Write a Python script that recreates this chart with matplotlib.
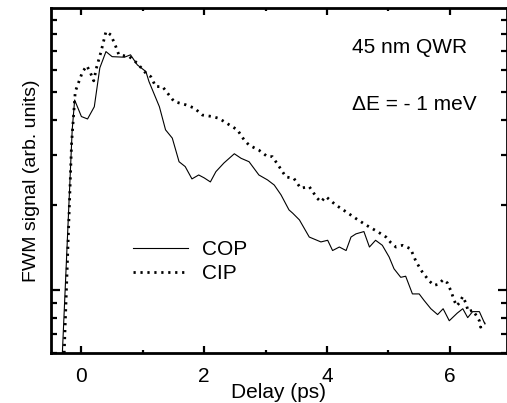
import matplotlib
matplotlib.use("Agg")
import matplotlib.pyplot as plt
from matplotlib.ticker import MultipleLocator, LogLocator, NullFormatter

plt.rcParams['font.family'] = ['Liberation Sans', 'DejaVu Sans']

# COP (solid)
cop_delay = [-0.31, -0.15, -0.11, 0.00, 0.10, 0.21, 0.30, 0.40, 0.50, 0.70, 0.80, 0.91,
             1.05, 1.10, 1.27, 1.37, 1.48, 1.59, 1.69, 1.80, 1.91, 2.00, 2.10, 2.19,
             2.32, 2.49, 2.60, 2.73, 2.89, 3.03, 3.14, 3.25, 3.38, 3.44, 3.55, 3.71,
             3.90, 4.01, 4.09, 4.20, 4.31, 4.39, 4.47, 4.60, 4.69, 4.79, 4.90, 5.01,
             5.09, 5.20, 5.28, 5.39, 5.50, 5.58, 5.69, 5.80, 5.89, 5.99, 6.12, 6.21,
             6.29, 6.37, 6.48, 6.57]
cop_signal = [0.60, 3.68, 4.69, 4.10, 4.02, 4.44, 6.09, 6.95, 6.67, 6.64, 6.77, 6.24,
              5.91, 5.45, 4.44, 3.68, 3.44, 2.84, 2.73, 2.47, 2.55, 2.49, 2.41, 2.62,
              2.81, 3.03, 2.92, 2.84, 2.55, 2.45, 2.35, 2.17, 1.92, 1.87, 1.77, 1.54,
              1.48, 1.50, 1.38, 1.42, 1.38, 1.54, 1.58, 1.61, 1.42, 1.50, 1.44, 1.31,
              1.19, 1.11, 1.12, 0.97, 0.97, 0.92, 0.86, 0.82, 0.86, 0.78, 0.83, 0.86,
              0.80, 0.84, 0.84, 0.76]

# CIP (dotted)
cip_delay = [-0.28, -0.16, -0.10, -0.04, 0.02, 0.09, 0.15, 0.20, 0.25, 0.32, 0.40, 0.48,
             0.56, 0.61, 0.78, 0.91, 1.05, 1.13, 1.21, 1.32, 1.51, 1.70, 1.84, 1.97,
             2.13, 2.24, 2.41, 2.54, 2.65, 2.73, 2.89, 3.03, 3.11, 3.22, 3.33, 3.46,
             3.57, 3.71, 3.84, 3.90, 3.98, 4.14, 4.31, 4.47, 4.63, 4.82, 4.96, 5.04,
             5.12, 5.23, 5.36, 5.45, 5.55, 5.66, 5.74, 5.82, 5.89, 5.96, 6.02, 6.07,
             6.11, 6.15, 6.21, 6.26, 6.30, 6.37, 6.42, 6.48, 6.50, 6.57]
cip_signal = [0.60, 3.30, 5.02, 5.45, 5.91, 6.19, 5.83, 5.48, 6.15, 6.95, 8.18, 7.96,
              7.24, 6.77, 6.67, 6.32, 5.83, 5.67, 5.23, 5.23, 4.63, 4.51, 4.39, 4.15,
              4.10, 4.04, 3.83, 3.68, 3.39, 3.25, 3.12, 2.96, 2.96, 2.73, 2.51, 2.48,
              2.29, 2.32, 2.11, 2.05, 2.14, 2.00, 1.89, 1.79, 1.70, 1.61, 1.54, 1.47,
              1.42, 1.44, 1.40, 1.26, 1.16, 1.08, 1.04, 1.05, 1.09, 1.06, 0.99, 0.92,
              0.88, 0.90, 0.95, 0.90, 0.84, 0.85, 0.82, 0.78, 0.74, 0.77]

xticks = [0, 2, 4, 6]

fig = plt.figure(figsize=(5.07, 4.03), dpi=100)
ax = fig.add_axes([0.100, 0.124, 0.900, 0.856])

ax.plot(cop_delay, cop_signal, color='black', lw=0.8, label='COP')
ax.plot(cip_delay, cip_signal, color='black', lw=2.0, linestyle=(0, (0.8, 1.7)),
        label='CIP')

ax.set_yscale('log')
ax.set_xlim(-0.5, 6.93)
ax.set_ylim(0.6, 9.9)

ax.set_xticks(xticks)
ax.set_xticklabels([str(t) for t in xticks])
ax.xaxis.set_minor_locator(MultipleLocator(1))
ax.yaxis.set_major_locator(LogLocator(base=10, numticks=10))
ax.yaxis.set_minor_locator(LogLocator(base=10, subs=range(2, 10), numticks=20))
ax.yaxis.set_major_formatter(NullFormatter())
ax.yaxis.set_minor_formatter(NullFormatter())

ax.tick_params(which='both', direction='in', top=True, right=True, width=1.6)
ax.tick_params(axis='x', which='major', length=5, labelsize=15, pad=10)
ax.tick_params(axis='x', which='minor', length=2.5)
ax.tick_params(axis='y', which='major', length=6.5)
ax.tick_params(axis='y', which='minor', length=4.5)

for s in ax.spines.values():
    s.set_linewidth(2.0)

ax.set_xlabel('Delay (ps)', fontsize=15, labelpad=-2)
ax.set_ylabel('FWM signal (arb. units)', fontsize=14, labelpad=4)

ax.text(0.66, 0.887, '45 nm QWR', transform=ax.transAxes, fontsize=15,
        ha='left', va='center')
ax.text(0.66, 0.719, '\u0394E = - 1 meV', transform=ax.transAxes, fontsize=15,
        ha='left', va='center')

ax.legend(loc='upper left', bbox_to_anchor=(0.18, 0.328), frameon=False,
          fontsize=15, handlelength=2.64, handletextpad=0.67, labelspacing=0.24,
          borderpad=0, borderaxespad=0)

fig.savefig('out.png', dpi=100)
